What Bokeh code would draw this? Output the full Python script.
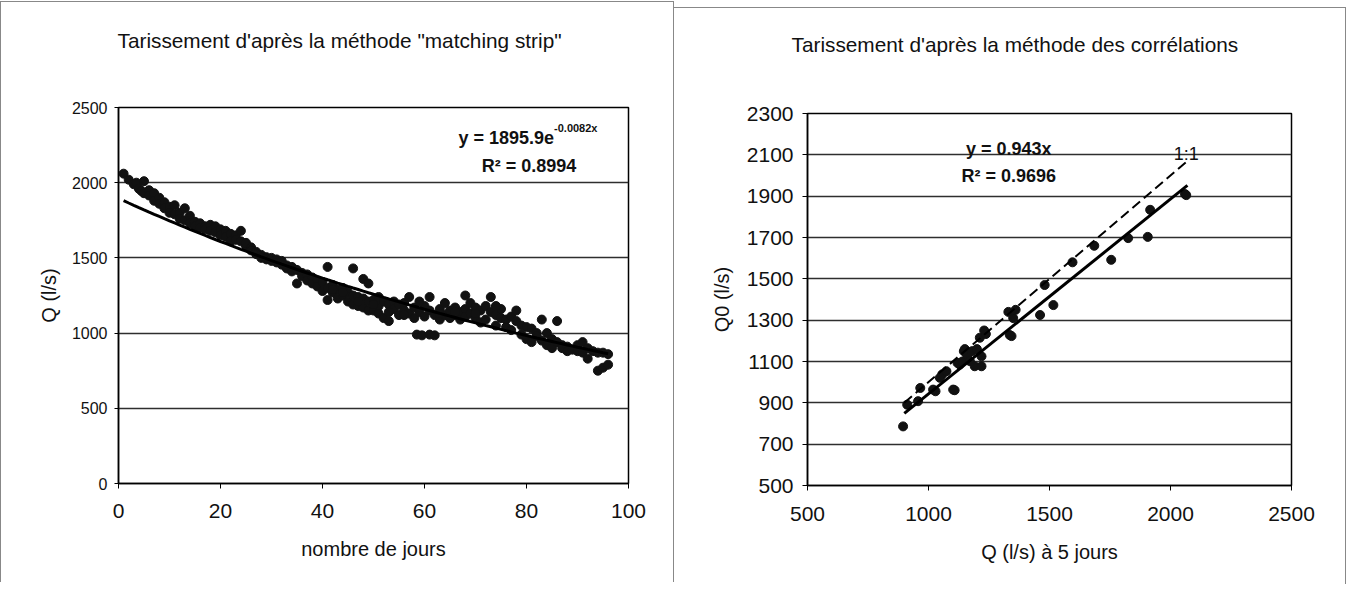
import numpy as np
from bokeh.plotting import figure
from bokeh.layouts import row
from bokeh.models import Range1d, Label, FixedTicker, Title
from bokeh.embed import file_html
from bokeh.resources import INLINE

FONT = "Liberation Sans"
INK = "#111111"

# ---------------- left chart data: "matching strip" ----------------
titre_gauche = "Tarissement d'après la méthode \"matching strip\""
jours = [
    1, 2, 3, 3.5, 4, 4.5, 5, 5, 6, 6, 7, 7, 8, 8, 9, 9, 10, 10,
    11, 11, 12, 12, 13, 13, 14, 14, 15, 15, 16, 16, 17, 17, 18, 18, 19, 19, 20, 20,
    21, 21, 22, 22, 23, 23, 24, 24, 25, 25,
    26, 26, 27, 27, 28, 28, 29, 29, 30, 30, 31, 31, 32, 32, 33, 33, 34, 34, 35, 35,
    36, 36, 37, 37, 38, 38, 39, 39, 40, 40,
    41, 41, 41, 42, 42, 43, 43, 44, 44, 45, 45, 46, 46, 46, 47, 47, 48, 48, 48,
    49, 49, 49, 50, 50, 51, 51, 51, 52, 52, 53, 53, 54, 54, 55, 55,
    56, 56, 57, 57, 58, 58, 58.5, 59, 59.5, 60, 60, 61, 61, 61, 62, 62, 63, 63,
    64, 64, 65, 65, 66, 66, 67, 67, 68, 68, 68, 69, 69, 70, 70,
    71, 71, 72, 72, 73, 73, 74, 74, 75, 75, 76, 76, 77, 77, 78, 78, 79, 79, 80, 80,
    81, 81, 82, 82, 83, 83, 84, 84, 85, 85,
    86, 86, 87, 87, 88, 88, 89, 90, 90, 91, 91, 92, 92, 93, 94, 94, 95, 95, 96, 96,
    42, 44, 47, 50, 53, 56, 59, 63, 66, 70, 74,
]
debits = [
    2060, 2020, 1990, 2000, 1960, 1945, 2010, 1930, 1950, 1915, 1930, 1880, 1900, 1860, 1870, 1830, 1840, 1800,
    1850, 1790, 1800, 1760, 1830, 1750, 1780, 1730, 1740, 1710, 1730, 1700, 1710, 1690, 1720, 1680, 1710, 1670, 1690, 1650,
    1680, 1640, 1660, 1610, 1650, 1620, 1680, 1610, 1580, 1600,
    1570, 1550, 1540, 1525, 1520, 1500, 1505, 1490, 1500, 1480, 1490, 1470, 1480, 1455, 1450, 1430, 1440, 1410, 1420, 1330,
    1400, 1380, 1390, 1350, 1370, 1330, 1350, 1310, 1340, 1280,
    1440, 1300, 1220, 1320, 1270, 1290, 1230, 1300, 1250, 1270, 1210, 1430, 1250, 1190, 1240, 1180, 1360, 1230, 1170,
    1330, 1210, 1150, 1220, 1150, 1240, 1180, 1130, 1210, 1100, 1190, 1080, 1210, 1160, 1190, 1120,
    1200, 1150, 1240, 1130, 1170, 1100, 990, 1140, 985, 1180, 1110, 1240, 1150, 990, 1120, 985, 1160, 1090,
    1200, 1120, 1150, 1100, 1170, 1120, 1140, 1090, 1250, 1160, 1110, 1200, 1130, 1170, 1100,
    1150, 1070, 1180, 1090, 1240, 1140, 1120, 1050, 1160, 1100, 1090, 1040, 1110, 1020, 1150, 1080, 1050, 990, 1040, 960,
    1030, 940, 1000, 980, 1090, 950, 1000, 920, 960, 900,
    1080, 940, 920, 900, 910, 880, 890, 920, 880, 940, 870, 900, 830, 880, 870, 750, 870, 770, 860, 790,
    1290, 1270, 1210, 1190, 1140, 1120, 1210, 1130, 1140, 1130, 1180,
]
ajust_a = 1895.9
ajust_b = -0.0082
ajust_debut, ajust_fin = 1, 96
ticks_x_gauche = [0, 20, 40, 60, 80, 100]
ticks_y_gauche = [0, 500, 1000, 1500, 2000, 2500]
label_x_gauche = "nombre de jours"
label_y_gauche = "Q (l/s)"
eq_gauche = "y = 1895.9e"
eq_gauche_exp = "-0.0082x"
r2_gauche = "R² = 0.8994"

# ---------------- right chart data: correlations ----------------
titre_droite = "Tarissement d'après la méthode des corrélations"
q5 = [895, 912, 957, 966, 1029, 1019, 1057, 1074, 1047, 1108, 1102, 1120, 1129, 1140,
      1146, 1150, 1160, 1171, 1180, 1191, 1200, 1212, 1219, 1219, 1237, 1230, 1336,
      1343, 1330, 1350, 1360, 1461, 1480, 1516, 1595, 1685, 1755, 1825, 1906, 1916,
      2060, 2065]
q0 = [786, 891, 908, 972, 956, 964, 1038, 1053, 1021, 961, 964, 1093, 1085, 1100,
      1150, 1160, 1130, 1102, 1150, 1077, 1160, 1215, 1125, 1077, 1233, 1250, 1228,
      1223, 1340, 1310, 1350, 1325, 1470, 1373, 1580, 1660, 1592, 1697, 1703, 1834,
      1910, 1905]
pente = 0.943
droites_x = [900, 2070]
ticks_x_droite = [500, 1000, 1500, 2000, 2500]
ticks_y_droite = [500, 700, 900, 1100, 1300, 1500, 1700, 1900, 2100, 2300]
label_x_droite = "Q (l/s) à 5 jours"
label_y_droite = "Q0 (l/s)"
eq_droite = "y = 0.943x"
r2_droite = "R² = 0.9696"
label_un = "1:1"


def style(p, ylab_size, ytick_out, ytick_standoff, ylab_standoff, xtick_standoff, xlab_standoff):
    p.xgrid.visible = False
    p.ygrid.grid_line_color = "#2e2e2e"
    p.ygrid.grid_line_width = 1.6
    p.outline_line_color = "black"
    p.outline_line_width = 1.5
    p.outline_line_alpha = 1
    p.background_fill_color = "white"
    p.border_fill_color = "white"
    for ax in p.axis:
        ax.axis_line_color = "black"
        ax.axis_line_width = 1.5
        ax.major_tick_line_color = "black"
        ax.major_tick_line_width = 1
        ax.minor_tick_line_color = None
        ax.major_tick_in = 0
        ax.major_label_text_font = FONT
        ax.major_label_text_color = INK
        ax.axis_label_text_font = FONT
        ax.axis_label_text_color = INK
        ax.axis_label_text_font_style = "normal"
        ax.axis_label_text_font_size = "20px"
    p.xaxis.major_tick_out = 5
    p.xaxis.major_label_text_font_size = "21px"
    p.xaxis.major_label_standoff = xtick_standoff
    p.xaxis.axis_label_standoff = xlab_standoff
    p.yaxis.major_tick_out = ytick_out
    p.yaxis.major_label_text_font_size = ylab_size
    p.yaxis.major_label_standoff = ytick_standoff
    p.yaxis.axis_label_standoff = ylab_standoff


def add_title(p, text, offset, gap):
    # an empty spacer panel right above the frame, then the visible title
    p.add_layout(Title(text=" ", text_font=FONT, text_font_size="10px",
                       standoff=gap), "above")
    p.add_layout(Title(text=text, align="left", offset=offset, standoff=0,
                       text_font=FONT, text_font_size="20.8px",
                       text_font_style="normal", text_color=INK), "above")


def add_label(p, x, y, text, size="18px", bold=True, align="center", y_offset=0):
    p.add_layout(Label(x=x, y=y, text=text, text_font=FONT, text_font_size=size,
                       text_font_style="bold" if bold else "normal",
                       text_color=INK, text_align=align,
                       text_baseline="alphabetic", y_offset=y_offset))


# ---------------- left figure ----------------
p1 = figure(frame_width=508, frame_height=375,
            x_range=Range1d(0, 100), y_range=Range1d(0, 2500),
            min_border_left=117, min_border_right=47,
            min_border_top=105, min_border_bottom=100,
            output_backend="svg", toolbar_location=None)
style(p1, "16px", 4, 7, 9, 15, 17)
p1.xaxis.ticker = FixedTicker(ticks=ticks_x_gauche)
p1.yaxis.ticker = FixedTicker(ticks=ticks_y_gauche)
p1.xaxis.axis_label = label_x_gauche
p1.yaxis.axis_label = label_y_gauche
add_title(p1, titre_gauche, -1, 43)

p1.scatter(jours, debits, size=9, color=INK, line_color=INK)
ax = np.linspace(ajust_debut, ajust_fin, 96)
p1.line(ax, ajust_a * np.exp(ajust_b * ax), line_color="black", line_width=3)

add_label(p1, 85.4, 2300, eq_gauche, align="right")
add_label(p1, 85.4, 2300, eq_gauche_exp, size="11px", align="left", y_offset=10)
add_label(p1, 80.5, 2113, r2_gauche)

p1.styles = {"border-left": "1px solid #888", "border-top": "1px solid #888",
             "border-right": "1px solid #888", "margin-top": "1px"}

# ---------------- right figure ----------------
p2 = figure(frame_width=483, frame_height=371,
            x_range=Range1d(500, 2500), y_range=Range1d(500, 2300),
            min_border_left=133, min_border_right=55,
            min_border_top=105, min_border_bottom=100,
            output_backend="svg", toolbar_location=None)
style(p2, "21px", 5, 9, 11, 16, 17)
p2.xaxis.ticker = FixedTicker(ticks=ticks_x_droite)
p2.yaxis.ticker = FixedTicker(ticks=ticks_y_droite)
p2.xaxis.axis_label = label_x_droite
p2.yaxis.axis_label = label_y_droite
add_title(p2, titre_droite, -16, 45)

p2.scatter(q5, q0, size=9, color=INK, line_color=INK)
p2.line(droites_x, droites_x, line_color="black", line_width=2, line_dash="10 5")
p2.line(droites_x, [pente * v for v in droites_x], line_color="black", line_width=3)

add_label(p2, 1332, 2130, eq_droite)
add_label(p2, 1332, 2000, r2_droite)
add_label(p2, 2065, 2106, label_un, bold=False)

p2.styles = {"border-top": "1px solid #888", "border-right": "1px solid #888",
             "margin-top": "7px"}

layout = row(p1, p2, spacing=0)
open("out.html", "w").write(file_html(layout, INLINE))
